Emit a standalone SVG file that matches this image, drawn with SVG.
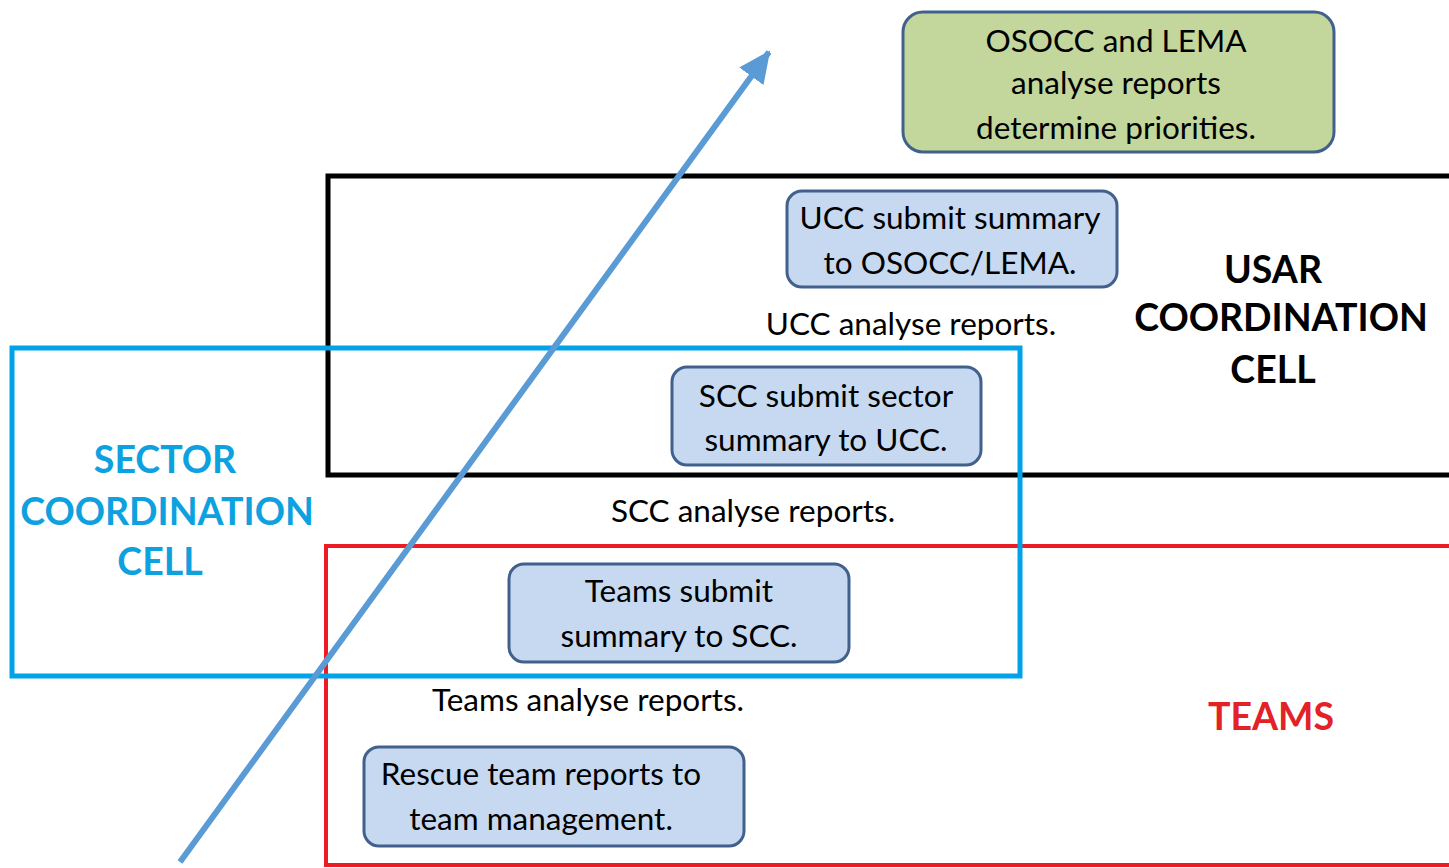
<svg xmlns="http://www.w3.org/2000/svg" width="1449" height="868" viewBox="0 0 1449 868">
<style>
.frame{fill:none}
.box{fill:#c6d9f0;stroke:#41618c;stroke-width:3}
.green{fill:#c3d69b;stroke:#41618c;stroke-width:3}
.t{font-family:Lato,"Open Sans",sans-serif;font-size:31.5px;fill:#000;text-anchor:middle}
.h{font-family:Lato,"Open Sans",sans-serif;font-size:37.5px;font-weight:bold;text-anchor:middle}
</style>
<defs>
<marker id="ah" markerUnits="userSpaceOnUse" markerWidth="40" markerHeight="40" refX="30" refY="15" orient="auto">
<path d="M0,0 L32,15 L0,30 Z" fill="#5b9bd5"/>
</marker>
</defs>
<rect width="1449" height="868" fill="#fff"/>
<g id="frames">
<g id="usar-cell">
<rect class="frame" x="328" y="176" width="1140" height="299" stroke="#000" stroke-width="5"/>
<text class="h" x="1273" y="283" fill="#000">USAR</text>
<text class="h" x="1281" y="331" fill="#000">COORDINATION</text>
<text class="h" x="1273" y="383" fill="#000">CELL</text>
</g>
<g id="teams-cell">
<rect class="frame" x="326" y="546" width="1140" height="319" stroke="#ed1c24" stroke-width="4"/>
<text class="h" x="1271" y="730" fill="#e32228">TEAMS</text>
</g>
<g id="sector-cell">
<rect class="frame" x="12" y="348" width="1008" height="328" stroke="#00a2e8" stroke-width="5"/>
<text class="h" x="165" y="473" fill="#0ea1e0">SECTOR</text>
<text class="h" x="167" y="525" fill="#0ea1e0">COORDINATION</text>
<text class="h" x="160" y="575" fill="#0ea1e0">CELL</text>
</g>
</g>
<g id="osocc">
<rect class="green" x="903" y="12" width="431" height="140" rx="20"/>
<text class="t" x="1116" y="52">OSOCC and LEMA</text>
<text class="t" x="1116" y="94">analyse reports</text>
<text class="t" x="1116" y="139">determine priorities.</text>
</g>
<g id="ucc-submit">
<rect class="box" x="787" y="191" width="330" height="96" rx="15"/>
<text class="t" x="950" y="229">UCC submit summary</text>
<text class="t" x="950" y="274">to OSOCC/LEMA.</text>
</g>
<g id="ucc-analyse">
<text class="t" x="911" y="335">UCC analyse reports.</text>
</g>
<g id="scc-submit">
<rect class="box" x="672" y="367" width="309" height="98" rx="15"/>
<text class="t" x="826" y="407">SCC submit sector</text>
<text class="t" x="826" y="451">summary to UCC.</text>
</g>
<g id="scc-analyse">
<text class="t" x="753" y="522">SCC analyse reports.</text>
</g>
<g id="teams-submit">
<rect class="box" x="509" y="564" width="340" height="98" rx="15"/>
<text class="t" x="679" y="602">Teams submit</text>
<text class="t" x="679" y="647">summary to SCC.</text>
</g>
<g id="teams-analyse">
<text class="t" x="588" y="711">Teams analyse reports.</text>
</g>
<g id="rescue">
<rect class="box" x="364" y="747" width="380" height="99" rx="15"/>
<text class="t" x="541" y="785">Rescue team reports to</text>
<text class="t" x="541" y="830">team management.</text>
</g>
<g id="connectors">
<line x1="180" y1="862" x2="769" y2="52" stroke="#5b9bd5" stroke-width="6" marker-end="url(#ah)"/>
</g>
</svg>
